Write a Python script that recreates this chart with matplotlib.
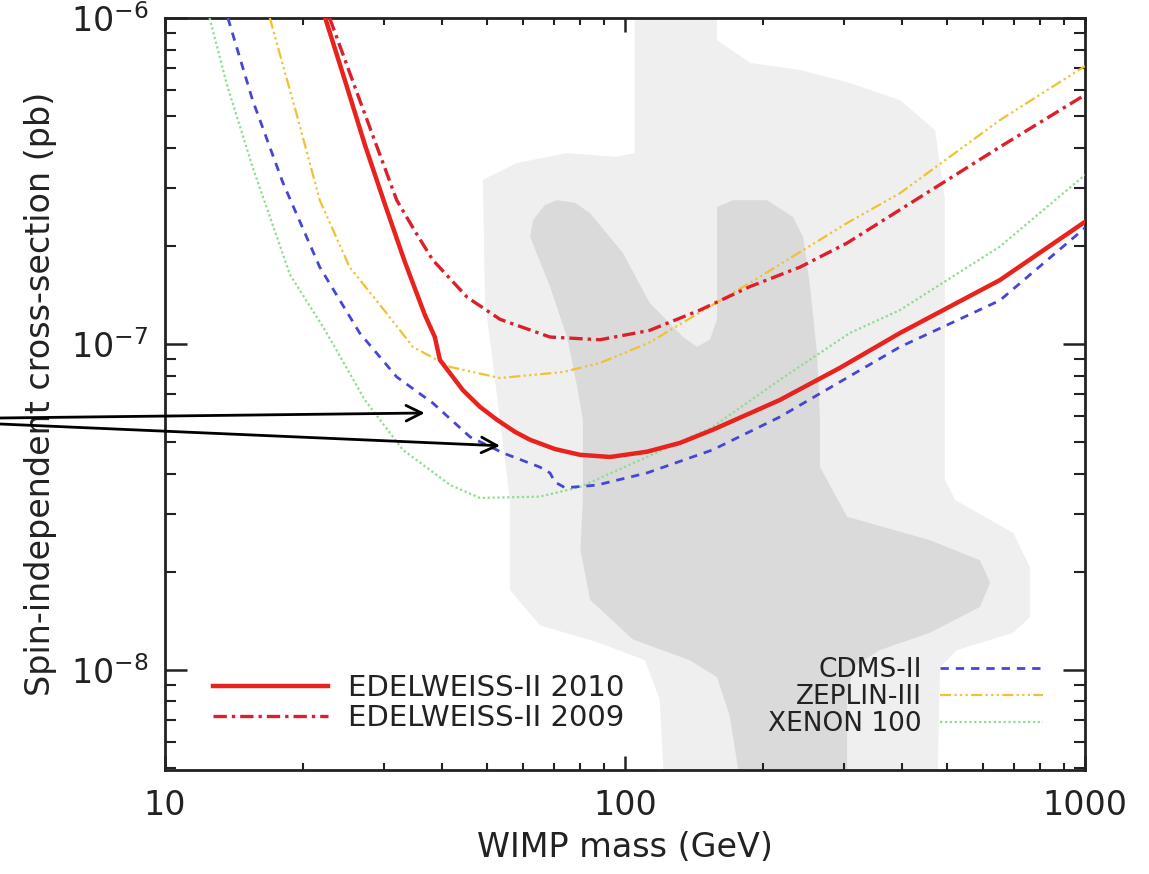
import matplotlib
matplotlib.use("Agg")
from matplotlib import pyplot as plt

# WIMP mass (GeV) / cross-section (pb)
ew10_mass = [22.3, 24.6, 27.2, 30.1, 33.2, 36.7, 38.6, 39.6, 44.4, 48.4, 52.7, 57.7, 62.2, 70.4, 79.8,
             92.8, 111.6, 131.7, 155, 217, 293, 396, 653, 1000]
ew10_sigma = [1.0e-6, 6.45e-7, 4.08e-7, 2.67e-7, 1.79e-7, 1.23e-7, 1.05e-7, 8.93e-8, 7.22e-8, 6.41e-8,
              5.85e-8, 5.37e-8, 5.08e-8, 4.76e-8, 4.57e-8, 4.50e-8, 4.67e-8, 4.97e-8, 5.45e-8, 6.73e-8,
              8.44e-8, 1.08e-7, 1.57e-7, 2.37e-7]

ew09_mass = [22.8, 26.5, 31.9, 35.0, 38.2, 45.4, 53.5, 68.7, 88.2, 113, 145.5, 187, 240, 304, 396, 653, 1000]
ew09_sigma = [1e-6, 5.6e-7, 2.76e-7, 2.21e-7, 1.81e-7, 1.39e-7, 1.19e-7, 1.05e-7, 1.03e-7, 1.10e-7,
              1.27e-7, 1.50e-7, 1.72e-7, 2.04e-7, 2.58e-7, 4.02e-7, 5.81e-7]

cdms_mass = [13.7, 15.5, 18.05, 21.7, 26.5, 31.9, 38.2, 46.0, 54.3, 65.3, 68.7, 70.4, 74.1, 86.9,
             111.6, 155, 217, 396, 653, 1000]
cdms_sigma = [1e-6, 5.6e-7, 3.12e-7, 1.72e-7, 1.08e-7, 7.92e-8, 6.59e-8, 5.19e-8, 4.63e-8, 4.19e-8,
              4.02e-8, 3.77e-8, 3.62e-8, 3.69e-8, 4.02e-8, 4.73e-8, 5.97e-8, 9.79e-8, 1.36e-7, 2.27e-7]

zeplin_mass = [16.9, 19.4, 21.7, 25.2, 29.3, 34.6, 41.7, 53.5, 73.3, 88.2, 113, 145.5, 187, 304, 396, 653, 1000]
zeplin_sigma = [1e-6, 4.97e-7, 2.76e-7, 1.72e-7, 1.32e-7, 9.79e-8, 8.50e-8, 7.86e-8, 8.20e-8, 8.74e-8,
                1.01e-7, 1.25e-7, 1.54e-7, 2.35e-7, 2.90e-7, 4.86e-7, 7.12e-7]

xenon_mass = [12.5, 13.6, 15.5, 18.7, 22.3, 27.2, 32.9, 41.7, 48.4, 65.3, 79.8, 111.6, 155, 217, 308, 396, 653, 1000]
xenon_sigma = [1e-6, 6.32e-7, 3.49e-7, 1.63e-7, 1.10e-7, 6.73e-8, 4.73e-8, 3.69e-8, 3.37e-8, 3.40e-8,
               3.64e-8, 4.50e-8, 5.56e-8, 7.76e-8, 1.08e-7, 1.27e-7, 1.99e-7, 3.30e-7]

# theory regions (outer = light, inner = dark)
outer_mass = [122, 119, 110.5, 88, 65.3, 56.2, 56.2, 53.5, 49.6, 49.1, 58.2, 74.8, 96, 105, 105, 158.5,
              158.5, 187, 240, 308, 396, 472, 496, 496, 522, 698, 759, 759, 698, 527, 484, 477]
outer_sigma = [4e-9, 8.1e-9, 1.07e-8, 1.21e-8, 1.37e-8, 1.76e-8, 3.32e-8, 5.85e-8, 1.36e-7, 3.19e-7,
               3.59e-7, 3.85e-7, 3.75e-7, 3.85e-7, 1.2e-6, 1.2e-6, 8.56e-7, 7.28e-7, 6.93e-7, 6.32e-7,
               5.6e-7, 4.53e-7, 2.76e-7, 3.83e-8, 3.32e-8, 2.63e-8, 2.07e-8, 1.45e-8, 1.3e-8, 1.15e-8,
               1.02e-8, 4e-9]

inner_mass = [180.5, 169, 158.5, 138.5, 104, 84, 80, 81, 81, 78.7, 74.8, 68.7, 62.2, 63.1, 67, 71.2,
              77.9, 83.9, 99, 113, 133.7, 143.4, 153, 158.5, 158.5, 171.7, 203.6, 231.9, 243.8, 252.5,
              261.4, 265.4, 265.4, 304, 460, 591, 622, 591, 460, 358, 313, 304, 304]
inner_sigma = [4e-9, 7.2e-9, 9.5e-9, 1.07e-8, 1.24e-8, 1.64e-8, 2.33e-8, 3.32e-8, 5.85e-8, 7.4e-8,
               1.05e-7, 1.5e-7, 2.13e-7, 2.4e-7, 2.67e-7, 2.76e-7, 2.71e-7, 2.52e-7, 1.9e-7, 1.34e-7,
               1.05e-7, 9.8e-8, 1.03e-7, 1.19e-7, 2.63e-7, 2.76e-7, 2.76e-7, 2.45e-7, 2.13e-7, 1.5e-7,
               9.4e-8, 5.85e-8, 4.19e-8, 2.95e-8, 2.5e-8, 2.17e-8, 1.85e-8, 1.56e-8, 1.3e-8, 1.15e-8,
               1.02e-8, 8.1e-9, 4e-9]

x_ticks = [10, 100, 1000]
x_tick_labels = ["10", "100", "1000"]
y_ticks = [1e-8, 1e-7, 1e-6]
y_tick_labels = [r"10$^{-8}$", r"10$^{-7}$", r"10$^{-6}$"]

# arrow tips (points on the CDMS / EDELWEISS curves)
arrow_tips = [(36.7, 6.14e-8), (53.5, 4.87e-8)]

ink = "#222222"
plt.rcParams["font.family"] = "DejaVu Sans"
plt.rcParams["mathtext.default"] = "regular"

fig = plt.figure(figsize=(11.49, 8.74), dpi=100)
ax = fig.add_axes([165 / 1149, 1 - 770 / 874, 920 / 1149, 752 / 874])
ax.set_xscale("log")
ax.set_yscale("log")
ax.set_xlim(10, 1000)
ax.set_ylim(4.93e-9, 1e-6)

ax.fill(outer_mass, outer_sigma, color="#efefef", lw=0, zorder=0)
ax.fill(inner_mass, inner_sigma, color="#dadada", lw=0, zorder=1)

l_xe, = ax.plot(xenon_mass, xenon_sigma, color="#8edc8e", lw=1.6, ls=(0, (1, 1.2)), zorder=3)
l_ze, = ax.plot(zeplin_mass, zeplin_sigma, color="#f0c232", lw=1.6,
                dashes=[5, 1.5, 1, 1.5, 1, 1.5, 1, 1.5], zorder=3)
l_cd, = ax.plot(cdms_mass, cdms_sigma, color="#4646d6", lw=2.0, dashes=(3, 2.5), zorder=4)
l_09, = ax.plot(ew09_mass, ew09_sigma, color="#dd1f2c", lw=2.4, dashes=(4, 1.5, 1, 1.5), zorder=5)
l_10, = ax.plot(ew10_mass, ew10_sigma, color="#e8231e", lw=3.2, zorder=6, solid_joinstyle="round")

ax.set_xticks(x_ticks, labels=x_tick_labels)
ax.set_yticks(y_ticks, labels=y_tick_labels)
ax.tick_params(which="both", direction="in", top=True, right=True, colors=ink, labelsize=24)
ax.tick_params(axis="x", which="major", length=10, width=1.8, pad=14)
ax.tick_params(axis="x", which="minor", length=5, width=1.5)
ax.tick_params(axis="y", which="major", length=16, width=1.8, pad=12)
ax.tick_params(axis="y", which="minor", length=8, width=1.5)
for s in ax.spines.values():
    s.set_linewidth(2.0)
    s.set_color(ink)

ax.set_xlabel("WIMP mass (GeV)", fontsize=24, color=ink, labelpad=6)
ax.set_ylabel("Spin-independent cross-section (pb)", fontsize=24, color=ink, labelpad=10)

leg1 = ax.legend([l_10, l_09], ["EDELWEISS-II 2010", "EDELWEISS-II 2009"], loc="upper left",
                 bbox_to_anchor=(0.052, 0.127), frameon=False, fontsize=21, handlelength=3.95,
                 handletextpad=0.68, labelspacing=0.05, borderpad=0, borderaxespad=0)
for t in leg1.get_texts():
    t.set_color(ink)
ax.add_artist(leg1)
leg2 = ax.legend([l_cd, l_ze, l_xe], ["CDMS-II", "ZEPLIN-III", "XENON 100"], loc="upper right",
                 bbox_to_anchor=(0.954, 0.150), frameon=False, fontsize=19, handlelength=3.9,
                 handletextpad=0.68, labelspacing=0.03, borderpad=0, borderaxespad=0,
                 markerfirst=False)
for t in leg2.get_texts():
    t.set_color(ink)

for tip, start in zip(arrow_tips, [(0.0, 1 - 418 / 874), (0.0, 1 - 424 / 874)]):
    ax.annotate("", xy=tip, xycoords="data", xytext=start, textcoords="figure fraction",
                arrowprops=dict(arrowstyle="->", color="black", lw=2.0, mutation_scale=28,
                                shrinkA=0, shrinkB=0),
                annotation_clip=False, zorder=10)

fig.savefig("out.png", dpi=100)
